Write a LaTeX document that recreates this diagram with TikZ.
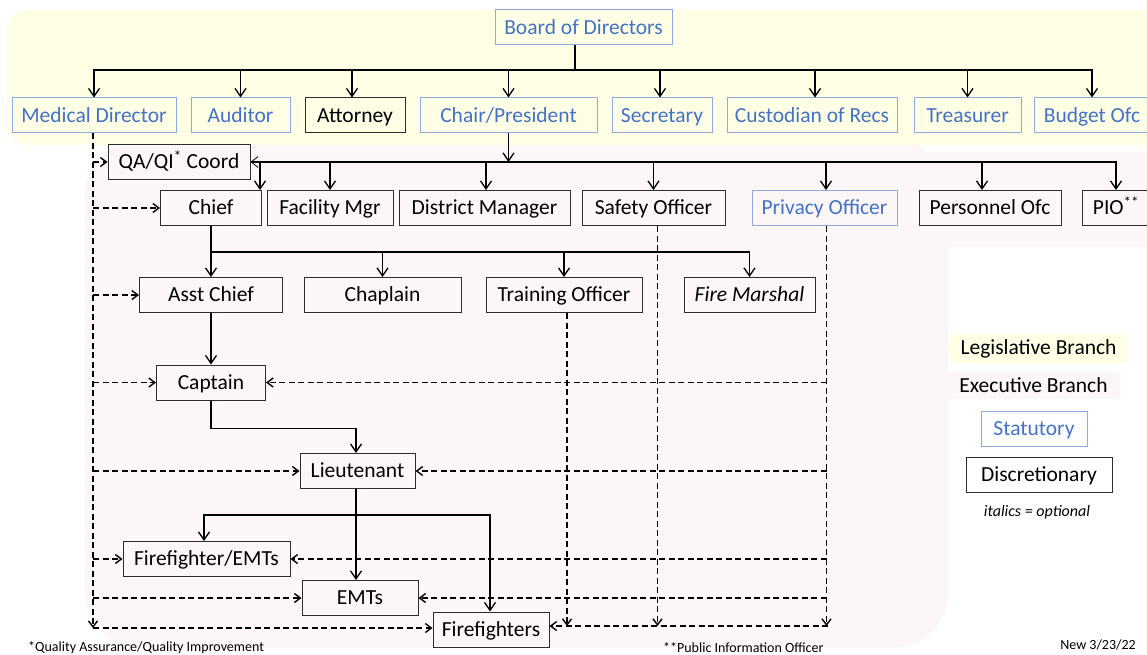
\documentclass[tikz,border=0pt]{standalone}
\usepackage{fontspec}
\setmainfont{Carlito}
\usetikzlibrary{arrows.meta, positioning, calc}
\definecolor{legisyellow}{RGB}{255, 255, 229}
\definecolor{execpink}{RGB}{252, 246, 246}
\definecolor{statblue}{RGB}{68, 114, 196}
\definecolor{statframe}{RGB}{143, 170, 220}
\definecolor{discframe}{RGB}{45, 45, 45}
\newcommand{\boxfont}{\fontsize{21.5}{25}\selectfont}
\newcommand{\notefont}{\fontsize{14}{16}\selectfont}

\begin{document}
\begin{tikzpicture}[
        x=1pt, y=-1pt,
        font=\boxfont,
        office/.style={minimum height=35, inner sep=0pt, text height=16.5pt, text depth=3pt, line width=1pt},
        statbox/.style={office, draw=statframe, text=statblue},
        discbox/.style={office, draw=discframe},
        arrow/.style={-{Straight Barb[length=8pt, width=11pt]}, line width=1.3pt},
        dasharrow/.style={-{Straight Barb[length=6pt, width=9pt]}, line width=1.4pt, dash pattern=on 6pt off 3.5pt}
    ]
        \useasboundingbox (0,0) rectangle (1147,655);

        % Branch shading
        \fill[execpink, rounded corners=55] (85,140) rectangle (948,648);
        \fill[execpink, rounded corners=15] (920,152) rectangle (1175,247);
        \fill[legisyellow, rounded corners=22] (7,10) rectangle (1175,145);

        % Board and its officers
        \node[statbox, minimum width=177] (board) at (583.5,27.5) {Board of Directors};
        \node[statbox, minimum width=164] (meddir) at (94,115.5) {Medical Director};
        \node[statbox, minimum width=99] (auditor) at (240.5,115.5) {Auditor};
        \node[discbox, minimum width=100] (attorney) at (355,115.5) {Attorney};
        \node[statbox, minimum width=177] (chair) at (508.5,115.5) {Chair/President};
        \node[statbox, minimum width=100] (secretary) at (662,115.5) {Secretary};
        \node[statbox, minimum width=170] (custodian) at (812,115.5) {Custodian of Recs};
        \node[statbox, minimum width=107] (treasurer) at (967.5,115.5) {Treasurer};
        \node[statbox, minimum width=116] (budget) at (1092,115.5) {Budget Ofc};

        % Staff under the Chair
        \node[discbox, minimum width=142] (qaqi) at (179,162) {QA/QI\textsuperscript{*} Coord};
        \node[discbox, minimum width=101] (chief) at (211,208) {Chief};
        \node[discbox, minimum width=126] (facility) at (330,208) {Facility Mgr};
        \node[discbox, minimum width=171] (district) at (484.5,208) {District Manager};
        \node[discbox, minimum width=143] (safety) at (653.5,208) {Safety Officer};
        \node[statbox, minimum width=145] (privacy) at (824.5,208) {Privacy Officer};
        \node[discbox, minimum width=142] (personnel) at (990,208) {Personnel Ofc};
        \node[discbox, minimum width=68] (pio) at (1116,208) {PIO\textsuperscript{**}};

        % Under the Chief
        \node[discbox, minimum width=143] (asstchief) at (211,295) {Asst Chief};
        \node[discbox, minimum width=157] (chaplain) at (382.5,295) {Chaplain};
        \node[discbox, minimum width=156] (training) at (564,295) {Training Officer};
        \node[discbox, minimum width=131] (marshal) at (749.5,295) {\itshape Fire Marshal};

        % Line officers and crews
        \node[discbox, minimum width=109] (captain) at (211,382.5) {Captain};
        \node[discbox, minimum width=115] (lieutenant) at (357.5,471) {Lieutenant};
        \node[discbox, minimum width=167] (ffemt) at (206.5,559) {Firefighter/EMTs};
        \node[discbox, minimum width=116] (emts) at (360,598) {EMTs};
        \node[discbox, minimum width=116] (firefighters) at (491,629.5) {Firefighters};

        % Board arrows
        \coordinate (bus1) at (575,70);
        \draw[line width=1.3pt] (board.south -| bus1) -- (bus1);
        \draw[arrow] (bus1) -| (meddir.north);
        \draw[arrow] (bus1) -| (auditor.north);
        \draw[arrow] (bus1) -| ([xshift=-3]attorney.north);
        \draw[arrow] (bus1) -| (chair.north);
        \draw[arrow] (bus1) -| ([xshift=-2]secretary.north);
        \draw[arrow] (bus1) -| ([xshift=3]custodian.north);
        \draw[arrow] (bus1) -| (treasurer.north);
        \draw[arrow] (bus1) -| (budget.north);

        % Chair arrows
        \coordinate (bus2) at (508.5,162);
        \draw[arrow] (chair.south) -- (bus2);
        \draw[-{Straight Barb[length=7pt, width=11pt, line width=0.8pt]}, line width=1.3pt] (bus2) -- (qaqi.east);
        \draw[arrow] (bus2) -| ([xshift=-2]chief.north east);
        \draw[arrow] (bus2) -| (facility.north);
        \draw[arrow] (bus2) -| ([xshift=1.5]district.north);
        \draw[arrow] (bus2) -| (safety.north);
        \draw[arrow] (bus2) -| ([xshift=1.5]privacy.north);
        \draw[arrow] (bus2) -| ([xshift=-8]personnel.north);
        \draw[arrow] (bus2) -| (pio.north);

        % Chief arrows
        \coordinate (bus3) at (211,252);
        \draw[arrow] (chief.south) -- (asstchief.north);
        \draw[arrow] (bus3) -| (chaplain.north);
        \draw[arrow] (bus3) -| (training.north);
        \draw[arrow] (bus3) -| (marshal.north);
        \draw[arrow] (asstchief.south) -- (captain.north);
        \draw[arrow] (captain.south) -- ++(0,28) -| ([xshift=-1.5]lieutenant.north);

        % Lieutenant arrows
        \coordinate (bus4) at (356,515);
        \draw[arrow] ([xshift=-1.5]lieutenant.south) -- ([xshift=-1.5]lieutenant.south |- emts.north);
        \draw[arrow] (bus4) -| ([xshift=-2.5]ffemt.north);
        \draw[arrow] (bus4) -| ([xshift=-1]firefighters.north);

        % Medical Director oversight
        \coordinate (mdbot) at (93,628);
        \draw[dasharrow] ([xshift=-1]meddir.south) -- (mdbot);
        \draw[dasharrow] (mdbot) -- (mdbot -| firefighters.west);
        \draw[dasharrow] (mdbot |- qaqi.west) -- (qaqi.west);
        \draw[dasharrow] (mdbot |- chief.west) -- (chief.west);
        \draw[dasharrow] (mdbot |- asstchief.west) -- (asstchief.west);
        \draw[dasharrow] (mdbot |- captain.west) -- (captain.west);
        \draw[dasharrow] (mdbot |- lieutenant.west) -- (lieutenant.west);
        \draw[dasharrow] (mdbot |- ffemt.west) -- (ffemt.west);
        \draw[dasharrow] (mdbot |- emts.west) -- (emts.west);

        % Safety, training and privacy oversight
        \coordinate (rbot) at (828,626);
        \draw[dasharrow] ([xshift=3]training.south) -- ([xshift=3]training.south |- rbot);
        \draw[dasharrow] ([xshift=4]safety.south) -- ([xshift=4]safety.south |- rbot);
        \draw[dasharrow] ([xshift=2]privacy.south) -- ([xshift=2]privacy.south |- rbot);
        \draw[dasharrow] (rbot) -- (rbot -| firefighters.east);
        \draw[dasharrow] ([xshift=2]privacy.south |- captain.east) -- (captain.east);
        \draw[dasharrow] ([xshift=2]privacy.south |- lieutenant.east) -- (lieutenant.east);
        \draw[dasharrow] ([xshift=2]privacy.south |- ffemt.east) -- (ffemt.east);
        \draw[dasharrow] ([xshift=2]privacy.south |- emts.east) -- (emts.east);

        % Legend
        \node[fill=legisyellow, rounded corners=4, minimum width=177, minimum height=29, inner sep=0pt] (legiskey) at (1038.5,348.5) {Legislative Branch};
        \node[fill=execpink, rounded corners=4, minimum width=173, minimum height=27, inner sep=0pt] (execkey) at (1033.5,385.5) {Executive Branch};
        \node[statbox, minimum width=106] (statkey) at (1034,428.5) {Statutory};
        \node[discbox, minimum width=146] (disckey) at (1039,474.5) {Discretionary};
        \node[font=\fontsize{16}{18}\selectfont\itshape, inner sep=0pt] (italkey) at (1037,512) {italics = optional};

        % Footnotes
        \node[font=\notefont, anchor=west, inner sep=0pt] (qanote) at (28,648) {*Quality Assurance/Quality Improvement};
        \node[font=\notefont, anchor=west, inner sep=0pt] (pionote) at (663,648) {**Public Information Officer};
        \node[font=\notefont, inner sep=0pt] (datenote) at (1098,645) {New 3/23/22};
    \end{tikzpicture}
\end{document}
